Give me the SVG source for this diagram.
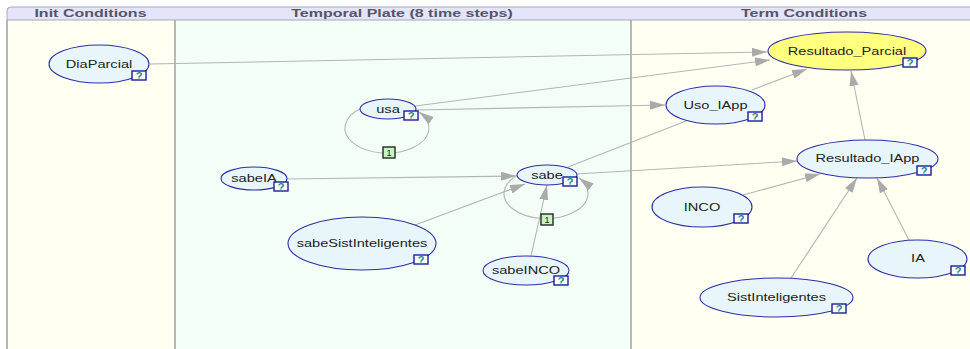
<svg xmlns="http://www.w3.org/2000/svg" width="970" height="349" viewBox="0 0 970 349">
  <style>
    .hdr { font-family: "Liberation Sans", Arial, sans-serif; font-size: 11.3px; font-weight: bold; fill: #55556a; text-anchor: middle; }
    .node { fill: #e8f6fb; stroke: #2e2ea6; stroke-width: 1.1; }
    .node.goal { fill: #ffff80; }
    .lbl { font-family: "Liberation Sans", Arial, sans-serif; font-size: 10.3px; fill: #222; text-anchor: middle; }
    .qbox { fill: #ffffff; stroke: #1c1c9c; stroke-width: 1.4; }
    .q { font-family: "Liberation Sans", Arial, sans-serif; font-size: 11px; font-weight: bold; fill: #178a8a; text-anchor: middle; }
    .edge { fill: none; stroke: #b4b4b4; stroke-width: 1.1; }
    .arrow { marker-end: url(#head); }
    .tbox { fill: #c8f2c8; stroke: #1e2a1e; stroke-width: 1.4; }
    .t { font-family: "Liberation Sans", Arial, sans-serif; font-size: 9px; fill: #222; text-anchor: middle; }
  </style>
  <defs>
    <marker id="head" markerUnits="userSpaceOnUse" markerWidth="16" markerHeight="10" refX="15" refY="4.5" orient="auto">
      <path d="M0,0 L15,4.5 L0,9 z" fill="#aaaaaa"/>
    </marker>
  </defs>

  <!-- plate backgrounds -->
  <rect x="0" y="0" width="970" height="349" fill="#ffffff"/>
  <rect x="7" y="20" width="168" height="335" fill="#fffff2"/>
  <rect x="175" y="20" width="456" height="335" fill="#f3fff6"/>
  <rect x="631" y="20" width="345" height="335" fill="#fffff2"/>
  <path d="M7,20 V11 Q7,7 11,7 H972 V20 Z" fill="#e4e4fa" stroke="#a8a8b8" stroke-width="1"/>
  <line x1="7" y1="20" x2="7" y2="349" stroke="#a0a0a0" stroke-width="1.5"/>
  <line x1="175" y1="20" x2="175" y2="349" stroke="#a0a0a0" stroke-width="1.5"/>
  <line x1="631" y1="20" x2="631" y2="349" stroke="#a0a0a0" stroke-width="1.5"/>
  <text class="hdr" transform="matrix(1.42 0 0 1 90.5 17)">Init Conditions</text>
  <text class="hdr" transform="matrix(1.42 0 0 1 402 17)">Temporal Plate (8 time steps)</text>
  <text class="hdr" transform="matrix(1.42 0 0 1 804 17)">Term Conditions</text>

  <!-- connectors -->
  <g id="connectors">
    <line class="edge arrow" x1="150" y1="64" x2="767" y2="52"/>
    <line class="edge arrow" x1="415" y1="106" x2="770" y2="60"/>
    <line class="edge arrow" x1="416" y1="110" x2="665" y2="105"/>
    <line class="edge arrow" x1="752" y1="90" x2="807" y2="69"/>
    <line class="edge" x1="568" y1="167" x2="686" y2="121"/>
    <line class="edge arrow" x1="287" y1="179" x2="516" y2="176"/>
    <line class="edge arrow" x1="415" y1="225" x2="525" y2="184"/>
    <line class="edge arrow" x1="531" y1="256" x2="547" y2="185"/>
    <line class="edge arrow" x1="576" y1="174" x2="797" y2="161"/>
    <line class="edge arrow" x1="743" y1="195" x2="820" y2="174"/>
    <line class="edge arrow" x1="791" y1="278" x2="857" y2="178"/>
    <line class="edge arrow" x1="909" y1="240" x2="877" y2="178"/>
    <line class="edge arrow" x1="865" y1="140" x2="851" y2="71"/>
    <!-- temporal self-loops -->
    <path class="edge arrow" d="M362,108 A42 25 0 1 0 419,112"/>
    <path class="edge arrow" d="M520,174 A42 25 0 1 0 579,178"/>
    <rect class="tbox" x="383" y="147" width="12" height="11"/>
    <text class="t" x="389" y="156">1</text>
    <rect class="tbox" x="541" y="214" width="12" height="11"/>
    <text class="t" x="547" y="223">1</text>
  </g>

  <!-- nodes -->
  <g id="node-DiaParcial">
    <ellipse class="node" cx="99" cy="64" rx="50" ry="19"/>
    <text class="lbl" transform="matrix(1.42 0 0 1 99 67.5)">DiaParcial</text>
    <rect class="qbox" x="132" y="71" width="14" height="9"/>
    <text class="q" x="139" y="80">?</text>
  </g>
  <g id="node-usa">
    <ellipse class="node" cx="388" cy="109" rx="28" ry="10"/>
    <text class="lbl" transform="matrix(1.42 0 0 1 388 112.5)">usa</text>
    <rect class="qbox" x="404" y="111" width="14" height="9"/>
    <text class="q" x="411" y="120">?</text>
  </g>
  <g id="node-sabeIA">
    <ellipse class="node" cx="254" cy="178.5" rx="33" ry="11.5"/>
    <text class="lbl" transform="matrix(1.42 0 0 1 254 182)">sabeIA</text>
    <rect class="qbox" x="274" y="182" width="14" height="9"/>
    <text class="q" x="281" y="191">?</text>
  </g>
  <g id="node-sabeSistInteligentes">
    <ellipse class="node" cx="362" cy="243.5" rx="74" ry="26.5"/>
    <text class="lbl" transform="matrix(1.42 0 0 1 362 247)">sabeSistInteligentes</text>
    <rect class="qbox" x="414" y="255" width="14" height="9"/>
    <text class="q" x="421" y="264">?</text>
  </g>
  <g id="node-sabe">
    <ellipse class="node" cx="547" cy="175" rx="30" ry="10"/>
    <text class="lbl" transform="matrix(1.42 0 0 1 547 178.5)">sabe</text>
    <rect class="qbox" x="563" y="177" width="14" height="9"/>
    <text class="q" x="570" y="186">?</text>
  </g>
  <g id="node-sabeINCO">
    <ellipse class="node" cx="526" cy="270.5" rx="43" ry="14.5"/>
    <text class="lbl" transform="matrix(1.42 0 0 1 526 274)">sabeINCO</text>
    <rect class="qbox" x="554" y="276" width="14" height="9"/>
    <text class="q" x="561" y="285">?</text>
  </g>
  <g id="node-Uso_IApp">
    <ellipse class="node" cx="715.5" cy="105" rx="49.5" ry="19"/>
    <text class="lbl" transform="matrix(1.42 0 0 1 715.5 108.5)">Uso_IApp</text>
    <rect class="qbox" x="748" y="112" width="14" height="9"/>
    <text class="q" x="755" y="121">?</text>
  </g>
  <g id="node-Resultado_Parcial">
    <ellipse class="node goal" cx="847" cy="51" rx="79" ry="19"/>
    <text class="lbl" transform="matrix(1.42 0 0 1 847 54.5)">Resultado_Parcial</text>
    <rect class="qbox" x="903" y="58" width="14" height="9"/>
    <text class="q" x="910" y="67">?</text>
  </g>
  <g id="node-Resultado_IApp">
    <ellipse class="node" cx="867.5" cy="159" rx="70.5" ry="19"/>
    <text class="lbl" transform="matrix(1.42 0 0 1 867.5 162)">Resultado_IApp</text>
    <rect class="qbox" x="917" y="166" width="14" height="9"/>
    <text class="q" x="924" y="175">?</text>
  </g>
  <g id="node-INCO">
    <ellipse class="node" cx="702" cy="207" rx="50" ry="20"/>
    <text class="lbl" transform="matrix(1.42 0 0 1 702 210.5)">INCO</text>
    <rect class="qbox" x="734" y="214" width="14" height="9"/>
    <text class="q" x="741" y="223">?</text>
  </g>
  <g id="node-IA">
    <ellipse class="node" cx="917.5" cy="259" rx="49.5" ry="19"/>
    <text class="lbl" transform="matrix(1.42 0 0 1 918 262)">IA</text>
    <rect class="qbox" x="951" y="266" width="14" height="9"/>
    <text class="q" x="958" y="275">?</text>
  </g>
  <g id="node-SistInteligentes">
    <ellipse class="node" cx="776.5" cy="297.5" rx="76.5" ry="19.5"/>
    <text class="lbl" transform="matrix(1.42 0 0 1 776.5 301)">SistInteligentes</text>
    <rect class="qbox" x="832" y="304" width="14" height="9"/>
    <text class="q" x="839" y="313">?</text>
  </g>
</svg>
